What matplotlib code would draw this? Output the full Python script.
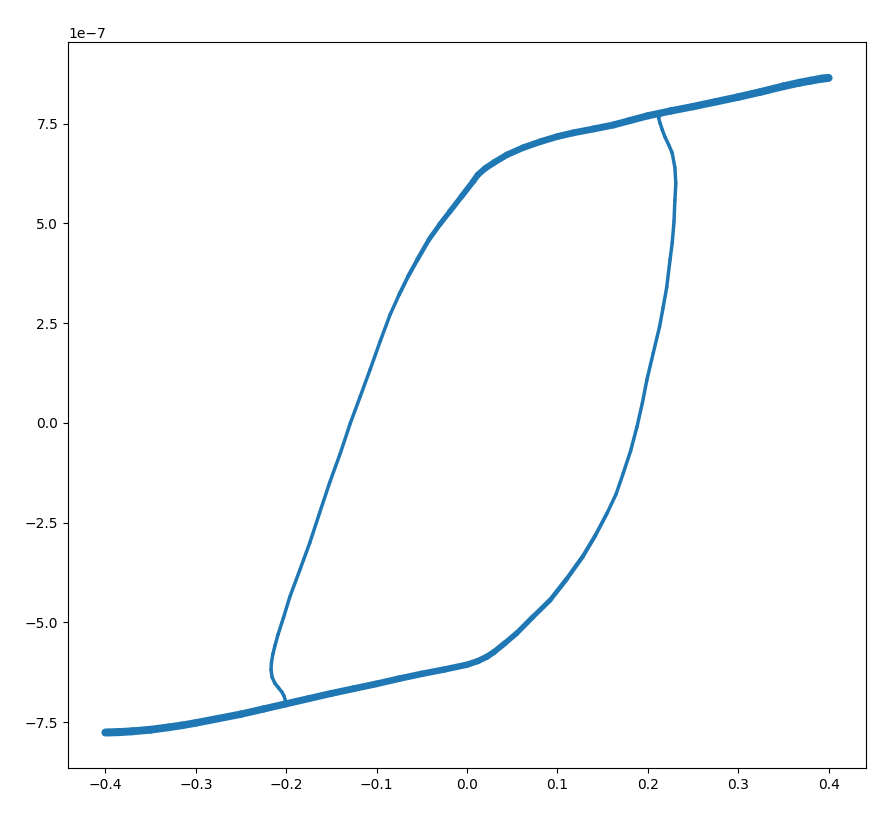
import matplotlib
matplotlib.use("Agg")
import matplotlib.pyplot as plt
from matplotlib.collections import LineCollection
import numpy as np

SCALE = 1e-7

# Lower saturated band (negative saturation), field increasing
lower_band_H = [-0.400, -0.385, -0.370, -0.350, -0.330, -0.315, -0.300, -0.275,
                -0.250, -0.225, -0.200, -0.175, -0.150, -0.125, -0.100, -0.075,
                -0.050, -0.025, 0.000, 0.012, 0.022, 0.030]
lower_band_M = [-7.76, -7.75, -7.73, -7.69, -7.63, -7.58, -7.52, -7.41,
                -7.30, -7.17, -7.04, -6.91, -6.78, -6.66, -6.54, -6.41,
                -6.29, -6.18, -6.06, -5.97, -5.86, -5.74]

# Rising switching branch (right side of the loop)
rise_H = [0.030, 0.042, 0.055, 0.073, 0.092, 0.110, 0.128, 0.142, 0.155, 0.165,
          0.173, 0.181, 0.188, 0.194, 0.199, 0.206, 0.213, 0.217, 0.221, 0.2246,
          0.227, 0.229, 0.230, 0.231, 0.230, 0.227, 0.223, 0.219, 0.216, 0.2135,
          0.212, 0.214]
rise_M = [-5.74, -5.52, -5.27, -4.86, -4.44, -3.92, -3.35, -2.82, -2.26, -1.78,
          -1.25, -0.70, -0.10, 0.50, 1.08, 1.75, 2.41, 2.90, 3.41, 4.09,
          4.51, 5.05, 5.59, 6.00, 6.40, 6.77, 6.98, 7.17, 7.35, 7.52,
          7.64, 7.74]

# Upper saturated band (positive saturation), field decreasing from +0.4
upper_band_H = [0.400, 0.392, 0.380, 0.368, 0.350, 0.325, 0.300, 0.275, 0.250,
                0.225, 0.200, 0.180, 0.162, 0.140, 0.117, 0.100, 0.081, 0.062,
                0.044, 0.030, 0.020, 0.012, 0.0066]
upper_band_M = [8.65, 8.63, 8.58, 8.53, 8.44, 8.30, 8.17, 8.05, 7.93,
                7.82, 7.70, 7.58, 7.47, 7.37, 7.27, 7.18, 7.05, 6.90,
                6.72, 6.53, 6.38, 6.22, 6.05]

# Falling switching branch (left side of the loop, with the small curl)
fall_H = [0.0066, -0.006, -0.019, -0.030, -0.042, -0.055, -0.065, -0.075, -0.085,
          -0.096, -0.107, -0.118, -0.129, -0.140, -0.152, -0.163, -0.174, -0.185,
          -0.196, -0.203, -0.209, -0.2124, -0.2148, -0.2163, -0.2168, -0.2155,
          -0.2124, -0.2085, -0.205, -0.2025, -0.201]
fall_M = [6.05, 5.68, 5.30, 4.98, 4.60, 4.09, 3.68, 3.22, 2.72,
          2.05, 1.35, 0.67, 0.00, -0.75, -1.50, -2.25, -3.01, -3.69,
          -4.36, -4.88, -5.30, -5.58, -5.80, -6.00, -6.19, -6.38,
          -6.53, -6.64, -6.74, -6.84, -6.95]

color = "#1f77b4"

fig = plt.figure(figsize=(8.92, 8.21), dpi=100)
ax = fig.add_axes([68/892, 1-768/821, (866-68)/892, (768-42)/821])


def tapered(H, M, widths):
    x = np.asarray(H, dtype=float)
    y = np.asarray(M, dtype=float) * SCALE
    pts = np.column_stack([x, y]).reshape(-1, 1, 2)
    segs = np.concatenate([pts[:-1], pts[1:]], axis=1)
    lc = LineCollection(segs, colors=color, linewidths=widths,
                        capstyle="round", joinstyle="round")
    ax.add_collection(lc)


def ramp(n, w0, w1, n_ramp=None):
    # width per segment: linear from w0 to w1 over n_ramp segments, then w1
    n_seg = n - 1
    if n_ramp is None:
        n_ramp = n_seg
    w = np.full(n_seg, w1, dtype=float)
    k = min(n_ramp, n_seg)
    w[:k] = np.linspace(w0, w1, k)
    return w


THIN = 2.5
tapered(lower_band_H, lower_band_M, ramp(len(lower_band_H), 5.8, 4.4))
tapered(rise_H, rise_M, ramp(len(rise_H), 4.2, THIN, 9))
tapered(upper_band_H, upper_band_M, ramp(len(upper_band_H), 5.8, 4.4))
tapered(fall_H, fall_M, ramp(len(fall_H), 4.2, THIN, 8))

ax.set_xlim(-0.4414, 0.4414)
ax.set_ylim(-8.65e-7, 9.55e-7)
ax.set_xticks([-0.4, -0.3, -0.2, -0.1, 0.0, 0.1, 0.2, 0.3, 0.4])
ax.set_yticks(np.array([-7.5, -5.0, -2.5, 0.0, 2.5, 5.0, 7.5]) * SCALE)

fig.savefig("out.png", dpi=100)
